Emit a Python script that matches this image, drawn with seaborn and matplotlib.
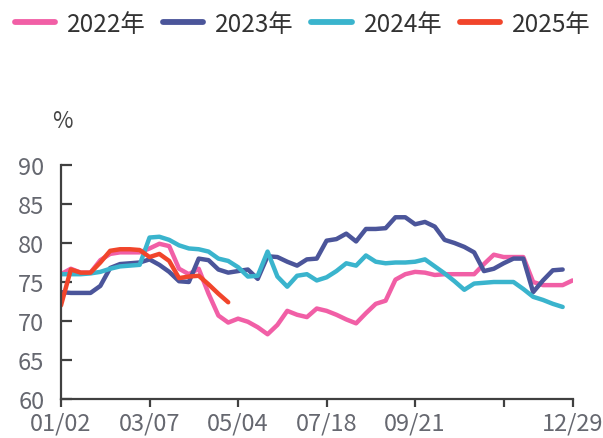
import numpy as np
import pandas as pd
import matplotlib
matplotlib.use("Agg")
import matplotlib.pyplot as plt
import seaborn as sns
from matplotlib.lines import Line2D

# ---------------- data ----------------
years = ["2022年", "2023年", "2024年", "2025年"]
tick_positions = [0, 9, 18, 27, 36, 45, 52]
tick_labels = ["01/02", "03/07", "05/04", "07/18", "09/21", "", "12/29"]

v2022 = [76.0, 76.7, 76.2, 76.2, 77.8, 78.6, 78.8, 78.8, 78.8, 79.3,
         79.9, 79.6, 76.7, 76.0, 76.7, 73.5, 70.7, 69.8, 70.3, 69.9,
         69.2, 68.3, 69.5, 71.3, 70.8, 70.5, 71.6, 71.3, 70.8, 70.2,
         69.7, 71.0, 72.2, 72.6, 75.3, 76.0, 76.3, 76.2, 75.9, 76.0,
         76.0, 76.0, 76.0, 77.3, 78.5, 78.2, 78.2, 78.2, 75.0, 74.6,
         74.6, 74.6, 75.2]
v2023 = [73.7, 73.6, 73.6, 73.6, 74.5, 76.8, 77.3, 77.4, 77.5, 77.9,
         77.2, 76.3, 75.1, 75.0, 78.0, 77.8, 76.6, 76.2, 76.4, 76.6,
         75.4, 78.3, 78.2, 77.6, 77.1, 77.9, 78.0, 80.3, 80.5, 81.2,
         80.2, 81.8, 81.8, 81.9, 83.3, 83.3, 82.4, 82.7, 82.1, 80.4,
         80.0, 79.5, 78.8, 76.4, 76.7, 77.4, 78.0, 78.0, 73.7, 75.2,
         76.5, 76.6]
v2024 = [76.0, 76.0, 76.0, 76.1, 76.3, 76.7, 77.0, 77.1, 77.2, 80.7,
         80.8, 80.4, 79.7, 79.3, 79.2, 78.9, 78.0, 77.7, 76.9, 75.7,
         75.8, 78.9, 75.7, 74.4, 75.8, 76.0, 75.2, 75.6, 76.4, 77.4,
         77.1, 78.4, 77.6, 77.4, 77.5, 77.5, 77.6, 77.9, 77.0, 76.1,
         75.1, 74.0, 74.8, 74.9, 75.0, 75.0, 75.0, 74.1, 73.1, 72.7,
         72.2, 71.8]
v2025 = [72.0, 76.6, 76.2, 76.2, 77.5, 79.0, 79.2, 79.2, 79.1, 78.2,
         78.6, 77.7, 75.5, 75.7, 75.8, 74.7, 73.5, 72.4]

colors = ["#F15FA6", "#4B559A", "#3AB4CD", "#F1452B"]

rows = []
for y, vals in zip(years, [v2022, v2023, v2024, v2025]):
    for i, v in enumerate(vals):
        rows.append({"week": i, "value": v, "year": y})
df = pd.DataFrame(rows)

# ---------------- style ----------------
sns.set_theme(style="white")
plt.rcParams["font.family"] = ["Noto Sans CJK SC", "DejaVu Sans"]

fig = plt.figure(figsize=(6.03, 4.39), dpi=100)
ax = fig.add_axes([61 / 603, 39 / 439, (572.5 - 61) / 603, 234 / 439])

sns.lineplot(data=df, x="week", y="value", hue="year", hue_order=years,
             palette=dict(zip(years, colors)), linewidth=3.2, ax=ax,
             legend=False, sort=False)

ax.set_xlim(0, 52)
ax.set_ylim(60, 90)
ax.set_yticks([60, 65, 70, 75, 80, 85, 90])
ax.set_xticks(tick_positions)
ax.set_xticklabels(tick_labels)
ax.set_xlabel("")
ax.set_ylabel("")

label_color = "#666870"
spine_color = "#404040"
for s in ["top", "right"]:
    ax.spines[s].set_visible(False)
for s in ["left", "bottom"]:
    ax.spines[s].set_color(spine_color)
    ax.spines[s].set_linewidth(1.6)

ax.tick_params(axis="y", direction="in", length=8, width=1.6,
               color=spine_color, labelsize=17, labelcolor=label_color,
               pad=12, left=True)
ax.tick_params(axis="x", direction="out", length=5.8, width=1.6,
               color=spine_color, labelsize=17, labelcolor=label_color,
               pad=3, bottom=True)

fig.text(62 / 603, 1 - 121 / 439, "%", fontsize=16, color="#444444",
         ha="center", va="center")

handles = [Line2D([0], [0], color=c, linewidth=4.2) for c in colors]
fig.legend(handles, years, loc="upper left", bbox_to_anchor=(0.0, 1.006),
           ncol=4, frameon=False, fontsize=17.5, handlelength=1.65,
           handletextpad=0.5, columnspacing=0.72, labelcolor="#333333",
           borderaxespad=0.2)

fig.savefig("out.png", dpi=100)
